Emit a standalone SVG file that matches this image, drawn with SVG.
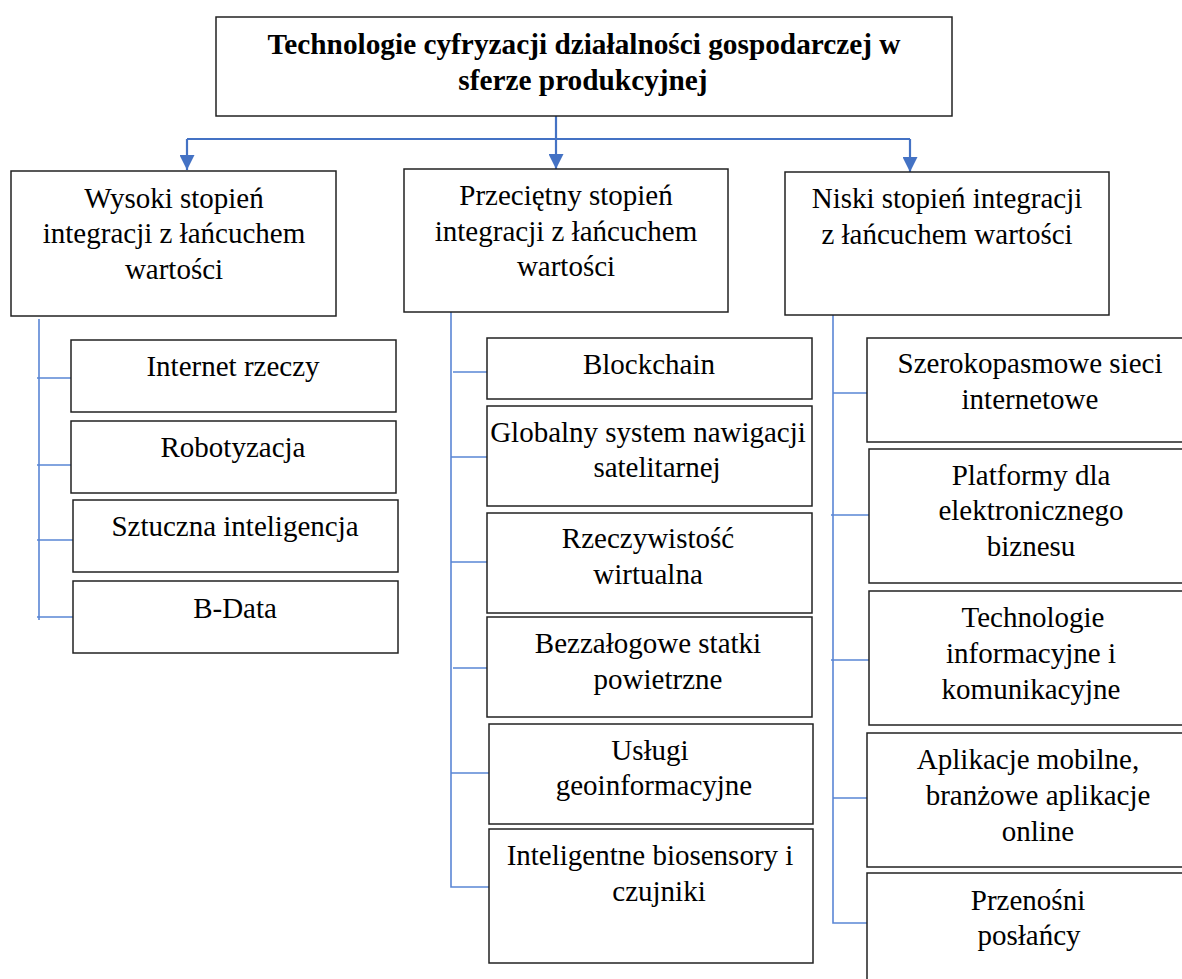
<svg xmlns="http://www.w3.org/2000/svg" width="1182" height="979" viewBox="0 0 1182 979">
  <style>
    .box { fill: #ffffff; stroke: #222222; stroke-width: 1.5; }
    .t { font-family: "Liberation Serif", "Times New Roman", serif; font-size: 29px; fill: #000000; text-anchor: middle; }
    .title { font-weight: bold; font-size: 29.3px; }
    .main { fill: none; stroke: #4472C4; stroke-width: 2.2; }
    .branch { fill: none; stroke: #5A86D5; stroke-width: 1.6; }
  </style>
  <defs>
    <marker id="arrow" markerUnits="userSpaceOnUse" markerWidth="15" markerHeight="15" viewBox="0 -7.5 15 15" refX="15" refY="0" orient="auto">
      <path d="M0,-7.5 L15,0 L0,7.5 z" fill="#4472C4"/>
    </marker>
  </defs>
  <rect width="1182" height="979" fill="#ffffff"/>

  <!-- connectors -->
  <g id="connectors">
    <path class="main" d="M556,116 V139 M187,139 H910"/>
    <path class="main" d="M187,139 V170" marker-end="url(#arrow)"/>
    <path class="main" d="M556,139 V169" marker-end="url(#arrow)"/>
    <path class="main" d="M910,139 V172" marker-end="url(#arrow)"/>
    <!-- left column branches -->
    <path class="branch" d="M39,319 V620 M37,378 H71 M37,465 H71 M37,540 H73 M37,617 H73"/>
    <!-- middle column branches -->
    <path class="branch" d="M451,312 V887 H489 M453,372 H487 M451,457 H487 M451,562 H487 M453,668 H487 M451,773 H489"/>
    <!-- right column branches -->
    <path class="branch" d="M833,312 V923 H867 M833,393 H867 M831,515 H869 M831,660 H869 M833,798 H867"/>
  </g>

  <!-- root -->
  <g id="root">
    <rect class="box" x="216" y="17" width="736" height="99"/>
    <text class="t title" x="584" y="54">Technologie cyfryzacji działalności gospodarczej w</text>
    <text class="t title" x="583" y="90">sferze produkcyjnej</text>
  </g>

  <!-- level 2 -->
  <g id="high">
    <rect class="box" x="11" y="171" width="325" height="145"/>
    <text class="t" x="174" y="208">Wysoki stopień</text>
    <text class="t" x="174" y="243">integracji z łańcuchem</text>
    <text class="t" x="174" y="279">wartości</text>
  </g>
  <g id="medium">
    <rect class="box" x="404" y="169" width="324" height="143"/>
    <text class="t" x="566" y="205">Przeciętny stopień</text>
    <text class="t" x="566" y="241">integracji z łańcuchem</text>
    <text class="t" x="566" y="276">wartości</text>
  </g>
  <g id="low">
    <rect class="box" x="785" y="172" width="324" height="143"/>
    <text class="t" x="947" y="208">Niski stopień integracji</text>
    <text class="t" x="947" y="244">z łańcuchem wartości</text>
  </g>

  <!-- high integration items -->
  <g id="iot">
    <rect class="box" x="71" y="340" width="325" height="72"/>
    <text class="t" x="233" y="376">Internet rzeczy</text>
  </g>
  <g id="robotics">
    <rect class="box" x="71" y="421" width="325" height="72"/>
    <text class="t" x="233" y="457">Robotyzacja</text>
  </g>
  <g id="ai">
    <rect class="box" x="73" y="500" width="325" height="72"/>
    <text class="t" x="235" y="536">Sztuczna inteligencja</text>
  </g>
  <g id="bdata">
    <rect class="box" x="73" y="581" width="325" height="72"/>
    <text class="t" x="235" y="618">B-Data</text>
  </g>

  <!-- medium integration items -->
  <g id="blockchain">
    <rect class="box" x="487" y="338" width="325" height="61"/>
    <text class="t" x="649" y="374">Blockchain</text>
  </g>
  <g id="gnss">
    <rect class="box" x="487" y="406" width="325" height="100"/>
    <text class="t" x="648" y="442">Globalny system nawigacji</text>
    <text class="t" x="657" y="477">satelitarnej</text>
  </g>
  <g id="vr">
    <rect class="box" x="487" y="513" width="325" height="100"/>
    <text class="t" x="648" y="548">Rzeczywistość</text>
    <text class="t" x="648" y="584">wirtualna</text>
  </g>
  <g id="uav">
    <rect class="box" x="487" y="617" width="325" height="100"/>
    <text class="t" x="648" y="653">Bezzałogowe statki</text>
    <text class="t" x="658" y="689">powietrzne</text>
  </g>
  <g id="geo">
    <rect class="box" x="489" y="724" width="324" height="100"/>
    <text class="t" x="650" y="760">Usługi</text>
    <text class="t" x="654" y="795">geoinformacyjne</text>
  </g>
  <g id="biosensors">
    <rect class="box" x="489" y="829" width="324" height="134"/>
    <text class="t" x="650" y="865">Inteligentne biosensory i</text>
    <text class="t" x="659" y="901">czujniki</text>
  </g>

  <!-- low integration items -->
  <g id="broadband">
    <rect class="box" x="867" y="338" width="330" height="104"/>
    <text class="t" x="1030" y="373">Szerokopasmowe sieci</text>
    <text class="t" x="1030" y="409">internetowe</text>
  </g>
  <g id="ebusiness">
    <rect class="box" x="869" y="449" width="330" height="134"/>
    <text class="t" x="1031" y="485">Platformy dla</text>
    <text class="t" x="1031" y="520">elektronicznego</text>
    <text class="t" x="1031" y="556">biznesu</text>
  </g>
  <g id="ict">
    <rect class="box" x="869" y="591" width="330" height="134"/>
    <text class="t" x="1033" y="627">Technologie</text>
    <text class="t" x="1031" y="663">informacyjne i</text>
    <text class="t" x="1031" y="699">komunikacyjne</text>
  </g>
  <g id="apps">
    <rect class="box" x="867" y="733" width="330" height="134"/>
    <text class="t" x="1028" y="769">Aplikacje mobilne,</text>
    <text class="t" x="1038" y="805">branżowe aplikacje</text>
    <text class="t" x="1038" y="841">online</text>
  </g>
  <g id="messengers">
    <rect class="box" x="867" y="873" width="330" height="120"/>
    <text class="t" x="1028" y="910">Przenośni</text>
    <text class="t" x="1029" y="945">posłańcy</text>
  </g>
</svg>
